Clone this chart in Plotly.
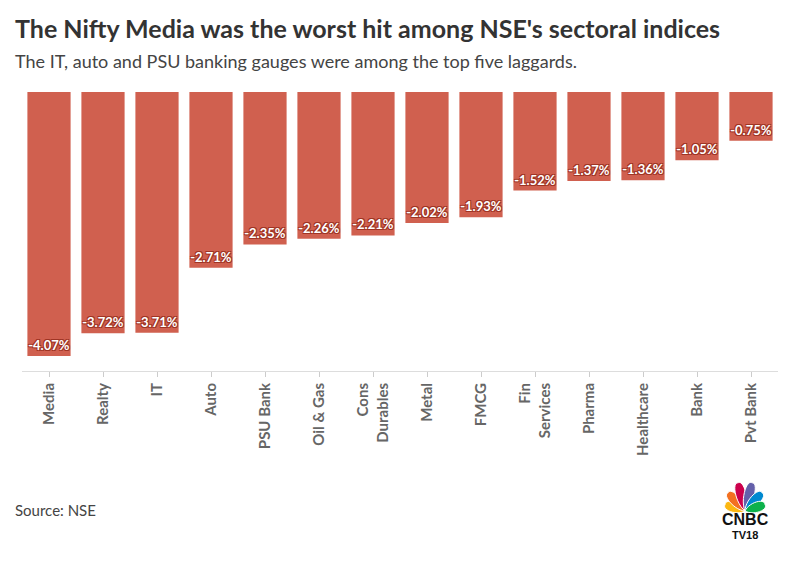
import math
import plotly.graph_objects as go

categories = ["Media", "Realty", "IT", "Auto", "PSU Bank", "Oil & Gas", "Cons<br>Durables",
              "Metal", "FMCG", "Fin<br>Services", "Pharma", "Healthcare", "Bank", "Pvt Bank"]
values = [-4.07, -3.72, -3.71, -2.71, -2.35, -2.26, -2.21, -2.02, -1.93, -1.52, -1.37, -1.36, -1.05, -0.75]
labels = [f"<b>{v:.2f}%</b>" for v in values]
tick_text = ["<b>" + c.replace("<br>", "</b><br><b>") + "</b>" for c in categories]

OFF = 8  # page body margin
W, H = 788, 567
ML, MT = 13.5, 84
MR = (OFF + W) - 778.5
MB = (OFF + H) - 371
PW, PH = W - ML - MR, H - MT - MB

def px(x):
    return (x - OFF - ML) / PW

def py(y):
    return 1 - (y - OFF - MT) / PH

FONT = "Lato"
BAR = "#d0604f"
SH = "#9e3424"

fig = go.Figure(go.Bar(
    x=categories, y=values, text=labels,
    marker=dict(color=BAR, line=dict(width=0)),
    textposition="inside", insidetextanchor="end", textangle=0,
    constraintext="none", cliponaxis=False,
    textfont=dict(family=FONT, size=13, color="white",
                  shadow=f"1px 1px 0 {SH}, -1px -1px 0 {SH}, 1px -1px 0 {SH}, -1px 1px 0 {SH}"),
    hoverinfo="skip",
))

fig.update_layout(
    width=W, height=H, margin=dict(l=ML, r=MR, t=MT, b=MB),
    paper_bgcolor="white", plot_bgcolor="white", bargap=0.2, showlegend=False,
    font=dict(family=FONT),
)
fig.update_yaxes(range=[-4.3, 0], visible=False, fixedrange=True)
fig.update_xaxes(showline=True, linecolor="#dddddd", linewidth=1, ticks="outside",
                 ticklen=5, tickcolor="#cccccc", tickangle=-90,
                 tickvals=categories, ticktext=tick_text,
                 tickfont=dict(family=FONT, size=15, color="#666666"),
                 showgrid=False, fixedrange=True)

ann = []
ann.append(dict(text="<b>The Nifty Media was the worst hit among NSE's sectoral indices</b>",
                x=px(12), y=py(28), xref="paper", yref="paper", xanchor="left", yanchor="middle",
                showarrow=False, font=dict(family=FONT, size=25, color="#333333")))
ann.append(dict(text="The IT, auto and PSU banking gauges were among the top five laggards.",
                x=px(12), y=py(61), xref="paper", yref="paper", xanchor="left", yanchor="middle",
                showarrow=False, font=dict(family=FONT, size=18, color="#444444")))
ann.append(dict(text="Source: NSE", x=px(12), y=py(510), xref="paper", yref="paper",
                xanchor="left", yanchor="middle", showarrow=False,
                font=dict(family=FONT, size=15, color="#444444")))
ann.append(dict(text="<b>CNBC</b>", x=px(745.5), y=py(519), xref="paper", yref="paper",
                xanchor="center", yanchor="middle", showarrow=False,
                font=dict(family="Liberation Sans", size=16, color="#111111")))
ann.append(dict(text="<b>TV18</b>", x=px(745.5), y=py(535), xref="paper", yref="paper",
                xanchor="center", yanchor="middle", showarrow=False,
                font=dict(family="Liberation Sans", size=11, color="#111111")))
fig.update_layout(annotations=ann)

# CNBC peacock feathers
feathers = [(-72, 21, 6.5, "#fcb711"), (-43, 25, 6.5, "#f37021"), (-14, 29, 6.5, "#cc004c"),
            (14, 29, 6.5, "#6460aa"), (43, 25, 6.5, "#0089d0"), (72, 21, 6.5, "#0db14b")]
bx, by = 745.5, 511
shapes = []
for ang, L, w, col in feathers:
    a = math.radians(ang)
    dx, dy = math.sin(a), -math.cos(a)
    pxn, pyn = math.cos(a), math.sin(a)
    def P(t, s):
        return (bx + dx * t * L + pxn * s * w, by + dy * t * L + pyn * s * w)
    b0 = (bx, by)
    tip = P(1, 0)
    c1 = P(0.3, 1.1); c2 = P(1.08, 1.0)
    c3 = P(1.08, -1.0); c4 = P(0.3, -1.1)
    pts = [b0, c1, c2, tip, c3, c4, b0]
    q = [(px(x), py(y)) for x, y in pts]
    path = (f"M {q[0][0]},{q[0][1]} C {q[1][0]},{q[1][1]} {q[2][0]},{q[2][1]} {q[3][0]},{q[3][1]} "
            f"C {q[4][0]},{q[4][1]} {q[5][0]},{q[5][1]} {q[6][0]},{q[6][1]} Z")
    shapes.append(dict(type="path", path=path, xref="paper", yref="paper",
                       fillcolor=col, line=dict(width=1, color="white")))
fig.update_layout(shapes=shapes)

fig.write_html("out.html")
